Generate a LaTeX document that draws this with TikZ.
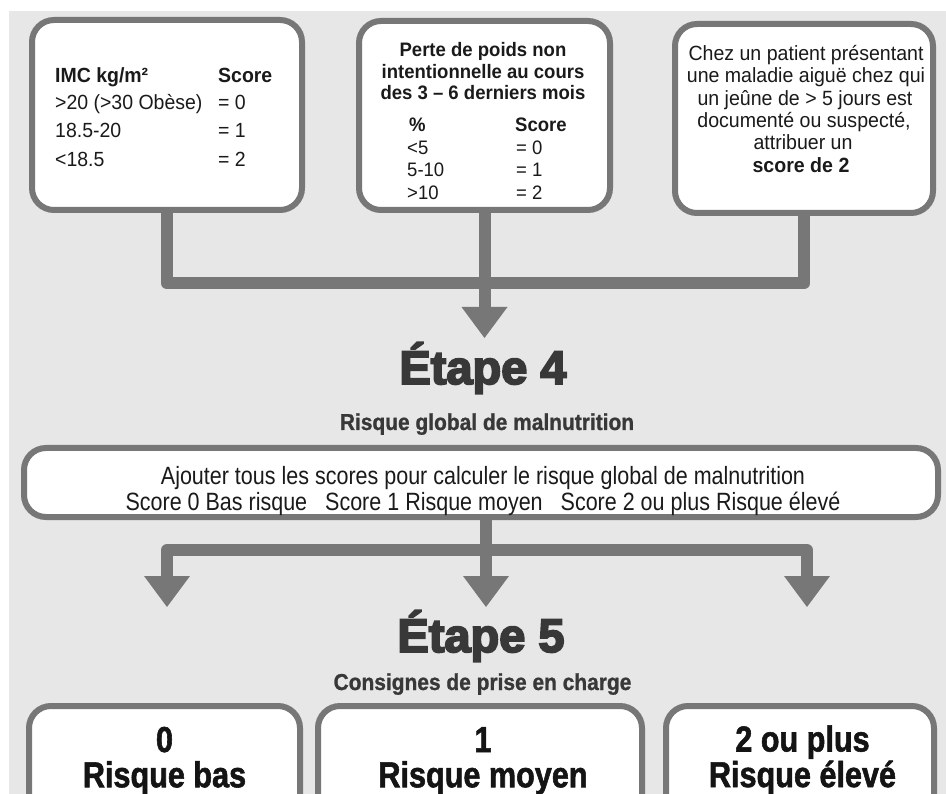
\documentclass[tikz,border=0pt]{standalone}
\usepackage{fontspec}
\setmainfont[FakeStretch=0.95]{Liberation Sans}
\newfontfamily\etapefont[FakeBold=4]{Liberation Sans}
\newfontfamily\subfont[FakeStretch=0.91,FakeBold=1]{Liberation Sans}
\newfontfamily\condfont[FakeStretch=0.86]{Liberation Sans}
\newfontfamily\bigfont[FakeStretch=0.85,FakeBold=1.5]{Liberation Sans}
\usetikzlibrary{arrows.meta}
\definecolor{bggray}{HTML}{E7E7E7}
\definecolor{linegray}{HTML}{777777}
\definecolor{headgray}{HTML}{383838}
\definecolor{txt}{HTML}{1A1A1A}
\newcommand{\twolines}[2]{\begin{tabular}[t]{@{}c@{}}#1\\#2\end{tabular}}
\tikzset{
  box/.style={draw=linegray, line width=6pt, fill=white, rounded corners=22pt, inner sep=0pt},
  conn/.style={draw=linegray, line width=12pt, line join=round},
  bigtip/.tip={Triangle[width=46pt,length=31pt,line width=0pt]},
  lbl/.style={inner sep=0pt, anchor=base west, text=txt, font=\fontsize{20.5}{24}\selectfont},
  lblb/.style={lbl, font=\bfseries\fontsize{20.5}{24}\selectfont},
  mid/.style={inner sep=0pt, anchor=base, text=txt, font=\fontsize{19.5}{22}\selectfont},
  midb/.style={mid, font=\bfseries\fontsize{19.5}{22}\selectfont},
  ctr/.style={inner sep=0pt, anchor=base, text=txt, font=\fontsize{20.6}{23}\selectfont},
  etape/.style={inner sep=0pt, anchor=base, text=headgray, font=\etapefont\bfseries\fontsize{47}{50}\selectfont},
  subhead/.style={inner sep=0pt, anchor=base, text=headgray, font=\subfont\bfseries\fontsize{23}{26}\selectfont},
  sumtxt/.style={inner sep=0pt, anchor=base, text=txt, font=\condfont\fontsize{25}{22}\selectfont},
  risk/.style={inner sep=0pt, anchor=base, text=black!92, font=\bigfont\bfseries\fontsize{36}{30.5}\selectfont},
}
\begin{document}
\begin{tikzpicture}[x=1pt,y=-1pt]
\useasboundingbox (0,0) rectangle (946,794);
\clip (0,0) rectangle (946,794);
\fill[white] (0,0) rectangle (946,794);
\fill[bggray] (9,11) rectangle (946,794);

% top boxes
\node[box, minimum width=270pt, minimum height=190pt] (b1) at (167,115) {};
\node[box, minimum width=251pt, minimum height=189pt] (b2) at (484.5,115.5) {};
\node[box, minimum width=258pt, minimum height=189pt] (b3) at (804,118.5) {};

% box 1 text
\node[lblb] (imc) at (55,83) {IMC kg/m²};
\node[lblb] (imcs) at (218,83) {Score};
\node[lbl] (r1a) at (55,110) {>20 (>30 Obèse)};
\node[lbl] (r1b) at (218,110) {= 0};
\node[lbl] (r2a) at (55,138) {18.5-20};
\node[lbl] (r2b) at (218,138) {= 1};
\node[lbl] (r3a) at (55,167) {<18.5};
\node[lbl] (r3b) at (218,167) {= 2};

% box 2 text
\node[midb] (p1) at (483,57) {Perte de poids non};
\node[midb] (p2) at (483,79) {intentionnelle au cours};
\node[midb] (p3) at (483,100) {des 3 – 6 derniers mois};
\node[midb, anchor=base west] (ph1) at (409,132) {\%};
\node[midb, anchor=base west] (ph2) at (515,132) {Score};
\node[mid, anchor=base west] (pa1) at (407,155) {<5};
\node[mid, anchor=base west] (pb1) at (516,155) {= 0};
\node[mid, anchor=base west] (pa2) at (407,177) {5-10};
\node[mid, anchor=base west] (pb2) at (516,177) {= 1};
\node[mid, anchor=base west] (pa3) at (407,200) {>10};
\node[mid, anchor=base west] (pb3) at (516,200) {= 2};

% box 3 text
\node[ctr] (c1) at (806,61) {Chez un patient présentant};
\node[ctr] (c2) at (806,83) {une maladie aiguë chez qui};
\node[ctr] (c3) at (805,106) {un jeûne de > 5 jours est};
\node[ctr] (c4) at (804,128) {documenté ou suspecté,};
\node[ctr] (c5) at (803,150) {attribuer un};
\node[ctr, font=\bfseries\fontsize{20.6}{23}\selectfont] (c6) at (801,173) {score de 2};

% top connectors
\coordinate (jt) at (484.5,283.5);
\coordinate (t4) at (484.5,338);
\draw[conn] (b1.south) |- (jt) -| (b3.south);
\draw[conn,-bigtip] (b2.south) -- (t4);

% step 4
\node[etape] (e4) at (483,384) {Étape 4};
\node[subhead] (e4s) at (487,430) {Risque global de malnutrition};

\node[box, minimum width=914pt, minimum height=69pt] (ajout) at (481,482.5) {};
\node[sumtxt] (aj) at (483,485) {\twolines{Ajouter tous les scores pour calculer le risque global de malnutrition}{Score 0 Bas risque\hspace{18pt}Score 1 Risque moyen\hspace{18pt}Score 2 ou plus Risque élevé}};

% lower connectors
\coordinate (jb) at (486,550);
\coordinate (tL) at (167,607);
\coordinate (tM) at (486,607);
\coordinate (tR) at (807,607);
\draw[conn,bigtip-bigtip] (tL) |- (jb) -| (tR);
\draw[conn,-bigtip] (tM |- ajout.south) -- (tM);

% step 5
\node[etape] (e5) at (481,652) {Étape 5};
\node[subhead] (e5s) at (482.5,690) {Consignes de prise en charge};

% bottom boxes
\node[box, minimum width=271pt, minimum height=150pt] (k0) at (164.5,781) {};
\node[box, minimum width=324pt, minimum height=150pt] (k1) at (480,781) {};
\node[box, minimum width=268pt, minimum height=150pt] (k2) at (800,781) {};
\node[risk] (k0t) at (164.5,752) {\twolines{0}{Risque bas}};
\node[risk] (k1t) at (483,752) {\twolines{1}{Risque moyen}};
\node[risk] (k2t) at (802.5,751.5) {\twolines{2 ou plus}{Risque élevé}};
\end{tikzpicture}
\end{document}
